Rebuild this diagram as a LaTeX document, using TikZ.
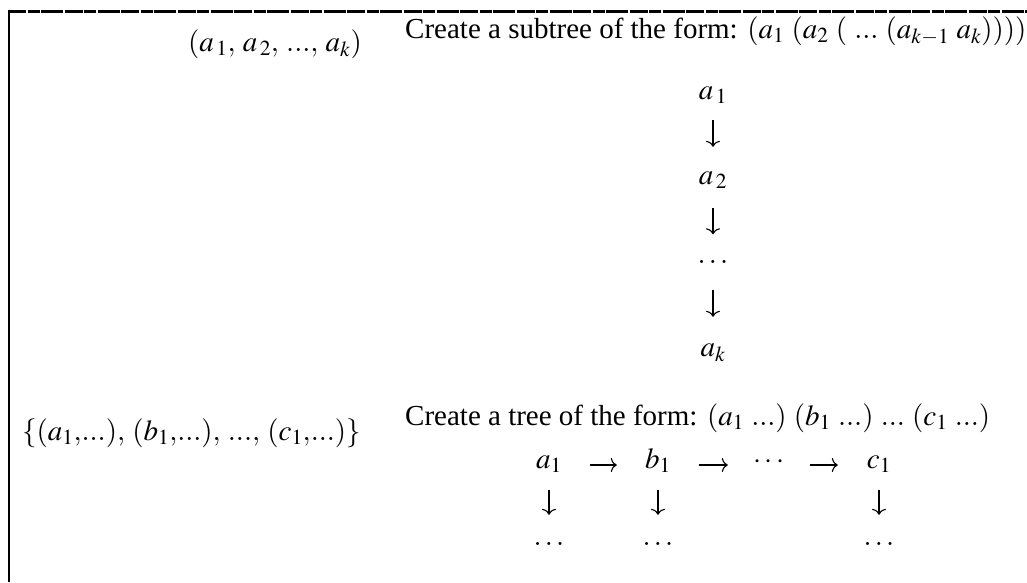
\documentclass[tikz,border=0pt]{standalone}
\usepackage{mathptmx}
\usepackage[no-math]{fontspec}
\setmainfont{Liberation Serif}
\usetikzlibrary{arrows.meta}
\tikzset{
  elem/.style={inner sep=0pt, text height=13pt, text depth=6pt, minimum width=82pt},
  caption/.style={inner sep=0pt, anchor=west},
}

\begin{document}
\begin{tikzpicture}[x=1pt, y=-1pt, >={To[length=6pt,width=14pt]}, every node/.style={font=\fontsize{29}{34}\selectfont}]
\useasboundingbox (0,0) rectangle (1027,582);
\draw[line width=3pt, dash pattern=on 18pt off 1.5pt on 12pt off 1.5pt on 22pt off 1.5pt](8,11)--(1027,11);
\draw[line width=2pt](9,10)--(9,582);

        \node(list)[inner sep=0pt, anchor=east] at (362,44){$(a_{\,1}{,}\ a_{\,2}{,}\ ...{,}\ a_k)$};
        \node(subtitle)[caption] at (405,31){Create a subtree of the form: $(a_1\ (a_2\ (\ ...\ (a_{k-1}\ a_k))))$};
        \node(a1)[elem] at (713,96){$a_{\,1}$};
        \node(a2)[elem] at (713,181){$a_{\,2}$};
        \node(ad)[elem] at (713,259.5){$\ldots$};
        \node(ak)[elem] at (713,353){$a_k$};
\draw[->, line width=1.1pt, shorten <=14.5pt, shorten >=24.5pt](a1)--(a2);
\draw[->, line width=1.1pt, shorten <=17pt, shorten >=15.5pt](a2)--(ad);
\draw[->, line width=1.1pt, shorten <=21pt, shorten >=26.5pt](ad)--(ak);

        \node(set)[caption] at (22,433){$\{(a_1{,}...){,}\ (b_1{,}...){,}\ ...{,}\ (c_1{,}...)\}$};
        \node(treetitle)[caption] at (405,418){Create a tree of the form: $(a_1\ ...)\ (b_1\ ...)\ ...\ (c_1\ ...)$};
        \node(ra)[elem] at (549,465){$a_1$};
        \node(rb)[elem] at (658,465){$b_1$};
        \node(rd)[elem] at (769,465){$\cdots$};
        \node(rc)[elem] at (879,465){$c_1$};
        \node(ra2)[elem] at (549,541.5){$\ldots$};
        \node(rb2)[elem] at (658,541.5){$\ldots$};
        \node(rc2)[elem] at (879,541.5){$\ldots$};
\draw[->, line width=1.1pt](ra)--(rb);
\draw[->, line width=1.1pt](rb)--(rd);
\draw[->, line width=1.1pt](rd)--(rc);
\draw[->, line width=1.1pt, shorten <=15.5pt, shorten >=17pt](ra)--(ra2);
\draw[->, line width=1.1pt, shorten <=15.5pt, shorten >=17pt](rb)--(rb2);
\draw[->, line width=1.1pt, shorten <=15.5pt, shorten >=17pt](rc)--(rc2);
    \end{tikzpicture}
\end{document}
